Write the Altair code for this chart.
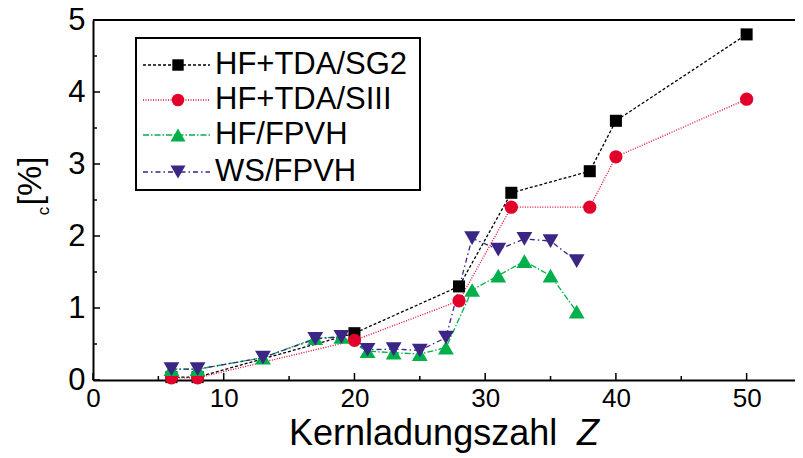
import altair as alt
import pandas as pd

# ---- data ----
Z_TDA = [6, 8, 20, 28, 32, 38, 40, 50]
SG2 = [0.04, 0.04, 0.65, 1.30, 2.60, 2.90, 3.60, 4.80]
SIII = [0.03, 0.03, 0.55, 1.10, 2.40, 2.40, 3.10, 3.90]
Z_FPVH = [6, 8, 13, 17, 19, 21, 23, 25, 27, 29, 31, 33, 35, 37]
HF_FPVH = [0.15, 0.15, 0.31, 0.58, 0.60, 0.40, 0.38, 0.36, 0.45, 1.25, 1.45, 1.65, 1.45, 0.95]
WS_FPVH = [0.15, 0.15, 0.31, 0.57, 0.60, 0.42, 0.43, 0.41, 0.59, 1.97, 1.81, 1.96, 1.93, 1.65]
SERIES = ["HF+TDA/SG2", "HF+TDA/SIII", "HF/FPVH", "WS/FPVH"]
X_TICKS = [0, 10, 20, 30, 40, 50]
X_MINOR = [5, 15, 25, 35, 45]
Y_TICKS = [0, 1, 2, 3, 4, 5]
Y_MINOR = [0.5, 1.5, 2.5, 3.5, 4.5]
X_TITLE = "Kernladungszahl"
X_TITLE_VAR = "Z"
Y_TITLE = "[%]"
Y_TITLE_SUB = "c"

FONT = "Liberation Sans"
W, H = 702, 360
XMAX = 53.7

styles = {
    "HF+TDA/SG2": dict(color="#000000", dash=[3, 2], shape="square", size=145),
    "HF+TDA/SIII": dict(color="#e2002b", dash=[1, 1.5], shape="circle", size=175),
    "HF/FPVH": dict(color="#00b04a", dash=[6, 2, 1.5, 2], shape="triangle-up", size=250),
    "WS/FPVH": dict(color="#3b2585", dash=[5, 3, 1.5, 3], shape="triangle-down", size=250),
}
series_data = {
    "HF+TDA/SG2": (Z_TDA, SG2),
    "HF+TDA/SIII": (Z_TDA, SIII),
    "HF/FPVH": (Z_FPVH, HF_FPVH),
    "WS/FPVH": (Z_FPVH, WS_FPVH),
}

xscale = alt.Scale(domain=[0, XMAX], nice=False, zero=False)
yscale = alt.Scale(domain=[0, 5], nice=False)
X_AX = alt.Axis(values=X_TICKS, ticks=False, labelPadding=5, labelFontSize=26,
                labelFont=FONT, labelColor="black", labelFlush=False, title=None,
                domainColor="black", domainWidth=2, grid=False, labelOverlap=False)
Y_AX = alt.Axis(values=Y_TICKS, ticks=False, labelPadding=8, labelFontSize=31,
                labelFont=FONT, labelColor="black", labelFlush=False, title=None,
                domainColor="black", domainWidth=2, grid=False, labelOverlap=False)


def xq(field):
    return alt.X(field, scale=xscale, axis=X_AX, title=None)


def yq(field):
    return alt.Y(field, scale=yscale, axis=Y_AX, title=None)


layers = []
one = pd.DataFrame({"x": [0], "y": [0]})

# inward ticks
for vals, ln in ((X_TICKS, 7), (X_MINOR, 4)):
    layers.append(alt.Chart(pd.DataFrame({"t": vals})).mark_rule(color="black", strokeWidth=1.5).encode(
        x=xq("t:Q"), y=alt.value(H), y2=alt.value(H - ln)))
for vals, ln in ((Y_TICKS, 7), (Y_MINOR, 4)):
    layers.append(alt.Chart(pd.DataFrame({"t": vals})).mark_rule(color="black", strokeWidth=1.5).encode(
        y=yq("t:Q"), x=alt.value(0), x2=alt.value(ln)))

# top frame line
layers.append(alt.Chart(one).mark_rule(color="black", strokeWidth=2).encode(
    x=alt.value(0), x2=alt.value(W), y=alt.value(0)))

# data lines
for name in SERIES:
    zs, vs = series_data[name]
    st = styles[name]
    df = pd.DataFrame({"Z": zs, "v": vs})
    layers.append(alt.Chart(df).mark_line(color=st["color"], strokeDash=st["dash"], strokeWidth=1.3).encode(
        x=xq("Z:Q"), y=yq("v:Q")))
# data points
for name in SERIES:
    zs, vs = series_data[name]
    st = styles[name]
    df = pd.DataFrame({"Z": zs, "v": vs})
    layers.append(alt.Chart(df).mark_point(shape=st["shape"], filled=True, opacity=1,
                                           color=st["color"], size=st["size"]).encode(
        x=xq("Z:Q"), y=yq("v:Q")))

# legend box
layers.append(alt.Chart(one).mark_rect(fill="white", stroke="black", strokeWidth=2).encode(
    x=alt.value(43), x2=alt.value(327), y=alt.value(18), y2=alt.value(170)))
row_y = [45, 80, 115, 152]
for name, ry in zip(SERIES, row_y):
    st = styles[name]
    ldf = pd.DataFrame({"label": [name]})
    layers.append(alt.Chart(ldf).mark_rule(color=st["color"], strokeDash=st["dash"], strokeWidth=1.3).encode(
        x=alt.value(50), x2=alt.value(117), y=alt.value(ry)))
    layers.append(alt.Chart(ldf).mark_point(shape=st["shape"], filled=True, opacity=1,
                                            color=st["color"], size=st["size"] * 0.9).encode(
        x=alt.value(85), y=alt.value(ry)))
    layers.append(alt.Chart(ldf).mark_text(align="left", baseline="middle", font=FONT, fontSize=31,
                                           color="black").encode(
        x=alt.value(122), y=alt.value(ry), text="label:N"))

# axis titles
layers.append(alt.Chart(pd.DataFrame({"t": [X_TITLE]})).mark_text(
    align="left", baseline="alphabetic", font=FONT, fontSize=36, color="black").encode(
    x=alt.value(196), y=alt.value(425), text="t:N"))
layers.append(alt.Chart(pd.DataFrame({"t": [X_TITLE_VAR]})).mark_text(
    align="left", baseline="alphabetic", font=FONT, fontSize=36, fontStyle="italic", color="black").encode(
    x=alt.value(484), y=alt.value(425), text="t:N"))
layers.append(alt.Chart(pd.DataFrame({"t": [Y_TITLE]})).mark_text(
    align="center", baseline="middle", font=FONT, fontSize=34, angle=270, color="black").encode(
    x=alt.value(-62), y=alt.value(161), text="t:N"))
layers.append(alt.Chart(pd.DataFrame({"t": [Y_TITLE_SUB]})).mark_text(
    align="center", baseline="middle", font=FONT, fontSize=17, angle=270, color="black").encode(
    x=alt.value(-49), y=alt.value(191), text="t:N"))

chart = alt.layer(*layers).properties(
    width=W, height=H,
    autosize=alt.AutoSizeParams(type="none"),
    padding={"left": 85, "top": 12, "right": 0, "bottom": 76},
).configure_view(stroke=None).configure(background="white")

chart.save("out.html", embed_options={"renderer": "svg", "actions": False})
